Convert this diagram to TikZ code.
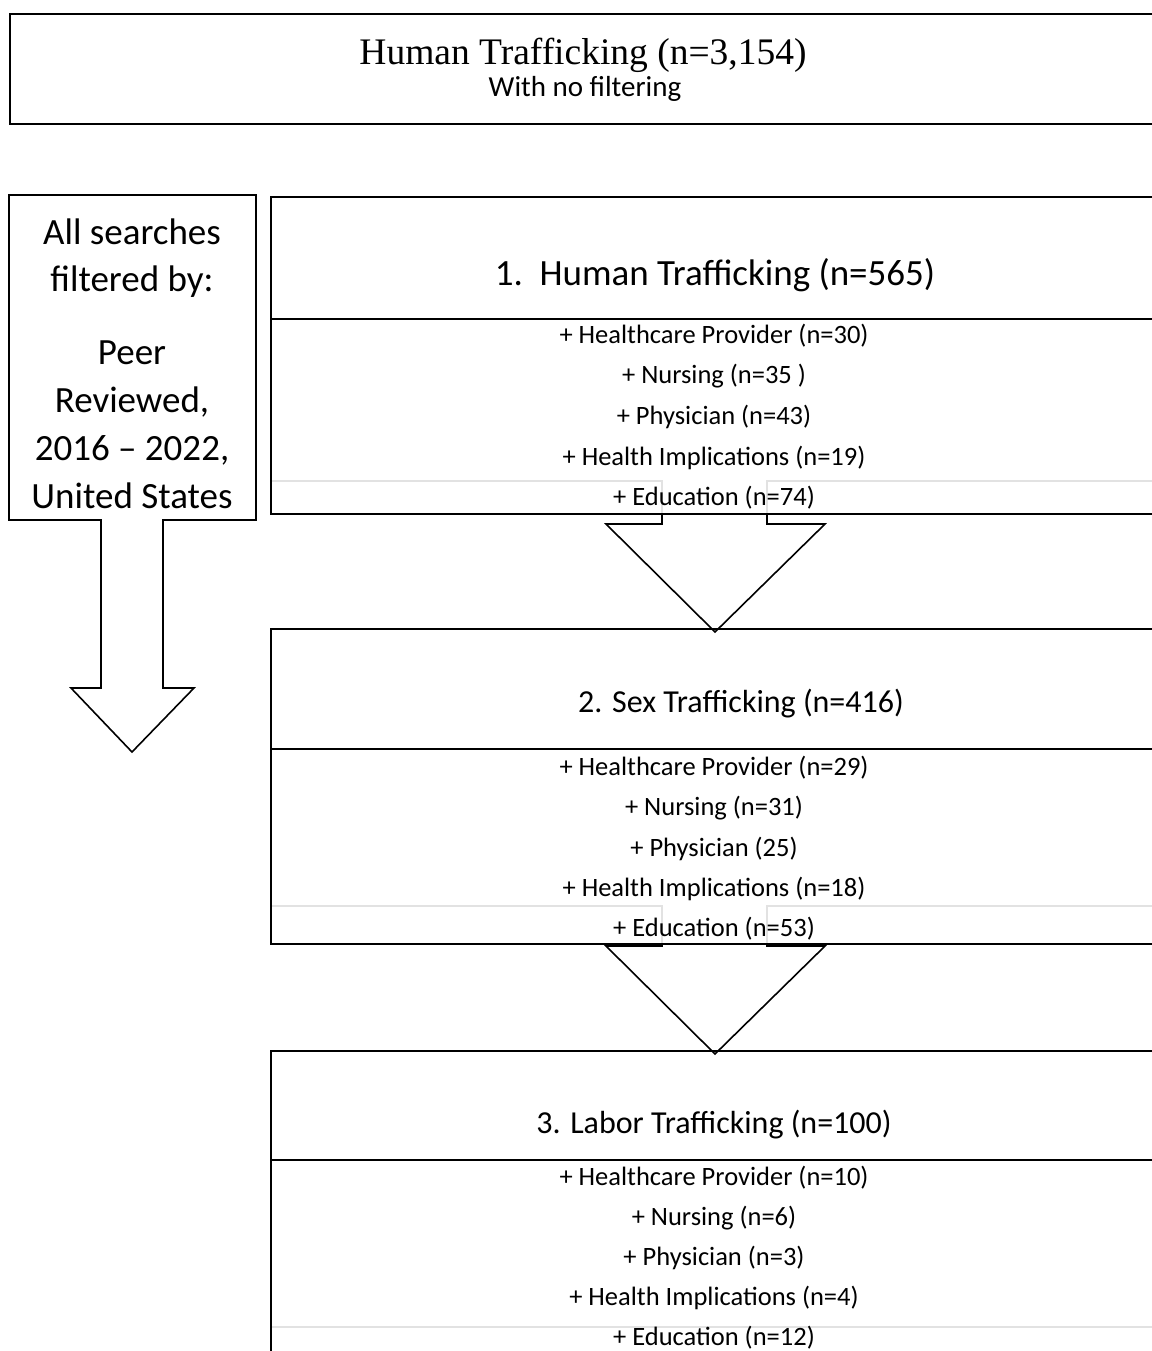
\documentclass[tikz,border=0pt]{standalone}
\usepackage{fontspec}
\setmainfont{Carlito}
\newfontfamily\titlefont{Liberation Serif}
\usetikzlibrary{calc}

\begin{document}
\begin{tikzpicture}[x=1pt, y=-1pt]
    % Define colours
    \definecolor{borderColour}{HTML}{000000}
    \definecolor{guideColour}{HTML}{E2E2E2}

    % Macros for the search boxes
    \def\boxLeft{271} % left edge of the three search boxes
    \def\boxRight{1160} % boxes run off the right edge of the page
    \def\stemLeft{662} % left side of the stem of the down arrows
    \def\stemRight{767} % right side of the stem of the down arrows
    \def\tipX{715} % x of the arrow tips

    \tikzset{
        outline/.style={draw=borderColour, line width=1.6pt, line join=miter},
        guide/.style={draw=guideColour, line width=1.6pt},
        itemtext/.style={font=\fontsize{26.5}{30}\selectfont, inner sep=0pt},
        headtext/.style={font=\fontsize{32}{38}\selectfont, inner sep=0pt},
    }

  % Page size
  \useasboundingbox (0,0) rectangle (1151,1351);

  % Unfiltered search at the top
  \draw[outline] (\boxRight,14) -- (10,14) -- (10,124) -- (\boxRight,124);
  \node[font=\titlefont\fontsize{37.5}{40}\selectfont, inner sep=0pt] (allTitle) at (583,55) {Human Trafficking (n=3,154)};
  \node[font=\fontsize{29}{32}\selectfont, inner sep=0pt] (allSub) at (585,89) {With no filtering};

  % Filter arrow on the left
  \draw[outline] (9,195) -- (256,195) -- (256,520) -- (163,520) -- (163,688) -- (194,688)
      -- (132,752) -- (71,688) -- (101,688) -- (101,520) -- (9,520) -- cycle;
  \node[font=\fontsize{37}{47}\selectfont, align=center, inner sep=0pt] (filterA) at (132,258) {All searches\\filtered by:};
  \node[font=\fontsize{37}{48}\selectfont, align=center, inner sep=0pt] (filterB) at (132,425) {Peer\\Reviewed,\\2016 – 2022,\\United States};

  % Box 1
  \draw[guide] (\boxLeft,481) -- (\stemLeft,481) -- (\stemLeft,514);
  \draw[guide] (\stemRight,514) -- (\stemRight,481) -- (\boxRight,481);
  \draw[outline] (\boxRight,197) -- (\boxLeft,197) -- (\boxLeft,514) -- (\boxRight,514);
  \draw[outline] (\boxLeft,319) -- (\boxRight,319);
  \node[headtext, font=\fontsize{37}{42}\selectfont] (titleOne) at (715,275) {1.\ \ Human Trafficking (n=565)};
  \foreach \txt [count=\i] in {+ Healthcare Provider (n=30), + Nursing (n=35 ), + Physician (n=43),
      + Health Implications (n=19), + Education (n=74)}
      \node[itemtext] (one\i) at (714,{336+40.5*(\i-1)}) {\txt};

  % Arrow from box 1 to box 2
  \coordinate (tipOne) at (\tipX,632);
  \draw[outline] (\stemLeft,514) -- (\stemLeft,524) -- (606,524) -- (tipOne) -- (825,524)
      -- (\stemRight,524) -- (\stemRight,514);

  % Box 2
  \draw[guide] (\boxLeft,906) -- (\stemLeft,906) -- (\stemLeft,944);
  \draw[guide] (\stemRight,944) -- (\stemRight,906) -- (\boxRight,906);
  \draw[outline] (\boxRight,629) -- (\boxLeft,629) -- (\boxLeft,944) -- (\boxRight,944);
  \draw[outline] (\boxLeft,749) -- (\boxRight,749);
  \node[headtext] (titleTwo) at (741,704) {2. Sex Trafficking (n=416)};
  \foreach \txt [count=\i] in {+ Healthcare Provider (n=29), + Nursing (n=31), + Physician (25),
      + Health Implications (n=18), + Education (n=53)}
      \node[itemtext] (two\i) at (714,{768+40.25*(\i-1)}) {\txt};

  % Arrow from box 2 to box 3
  \coordinate (tipTwo) at (\tipX,1054);
  \draw[outline] (\stemLeft,944) -- (\stemLeft,946) -- (606,946) -- (tipTwo) -- (825,946)
      -- (\stemRight,946) -- (\stemRight,944);

  % Box 3
  \draw[guide] (\boxLeft,1327) -- (\boxRight,1327);
  \draw[outline] (\boxRight,1051) -- (\boxLeft,1051) -- (\boxLeft,1360);
  \draw[outline] (\boxLeft,1160) -- (\boxRight,1160);
  \node[headtext] (titleThree) at (714,1125) {3. Labor Trafficking (n=100)};
  \foreach \txt [count=\i] in {+ Healthcare Provider (n=10), + Nursing (n=6), + Physician (n=3),
      + Health Implications (n=4), + Education (n=12)}
      \node[itemtext] (three\i) at (714,{1178+40*(\i-1)}) {\txt};

\end{tikzpicture}
\end{document}
